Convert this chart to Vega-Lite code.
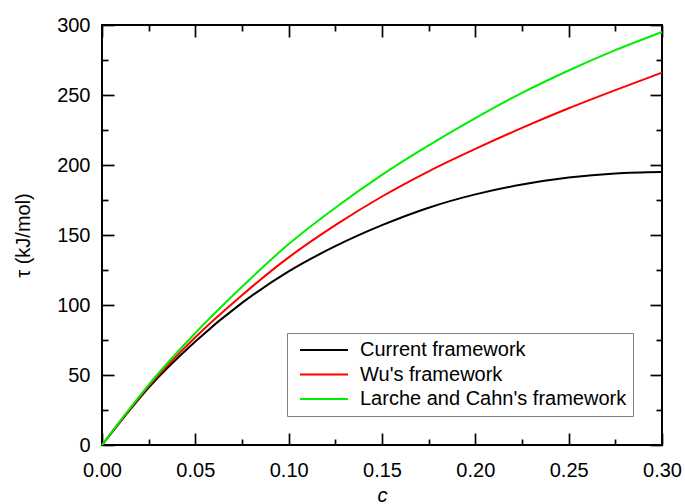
{
  "$schema": "https://vega.github.io/schema/vega-lite/v6.json",
  "width": 560,
  "height": 420,
  "autosize": "none",
  "padding": {"left": 102, "top": 25, "right": 23, "bottom": 59},
  "background": "white",
  "config": {
    "font": "Liberation Sans",
    "view": {"stroke": "black", "strokeWidth": 2},
    "axis": {"labelFont": "Liberation Sans", "titleFont": "Liberation Sans", "labelColor": "black", "titleColor": "black", "tickColor": "black", "tickWidth": 1.7, "grid": false, "domain": false, "ticks": true}
  },
  "data": {
    "values": [
      {"c": 0, "tau": 0, "series": "Current framework"},
      {"c": 0.0125, "tau": 21, "series": "Current framework"},
      {"c": 0.025, "tau": 41, "series": "Current framework"},
      {"c": 0.05, "tau": 74, "series": "Current framework"},
      {"c": 0.075, "tau": 101.5, "series": "Current framework"},
      {"c": 0.1, "tau": 124, "series": "Current framework"},
      {"c": 0.125, "tau": 142, "series": "Current framework"},
      {"c": 0.15, "tau": 157, "series": "Current framework"},
      {"c": 0.175, "tau": 169.5, "series": "Current framework"},
      {"c": 0.2, "tau": 179, "series": "Current framework"},
      {"c": 0.225, "tau": 186, "series": "Current framework"},
      {"c": 0.25, "tau": 191, "series": "Current framework"},
      {"c": 0.275, "tau": 194, "series": "Current framework"},
      {"c": 0.3, "tau": 195, "series": "Current framework"},
      {"c": 0, "tau": 0, "series": "Wu's framework"},
      {"c": 0.0125, "tau": 21.5, "series": "Wu's framework"},
      {"c": 0.025, "tau": 42, "series": "Wu's framework"},
      {"c": 0.05, "tau": 77, "series": "Wu's framework"},
      {"c": 0.075, "tau": 107, "series": "Wu's framework"},
      {"c": 0.1, "tau": 134, "series": "Wu's framework"},
      {"c": 0.125, "tau": 157, "series": "Wu's framework"},
      {"c": 0.15, "tau": 177.5, "series": "Wu's framework"},
      {"c": 0.175, "tau": 195.5, "series": "Wu's framework"},
      {"c": 0.2, "tau": 211.5, "series": "Wu's framework"},
      {"c": 0.225, "tau": 226.5, "series": "Wu's framework"},
      {"c": 0.25, "tau": 240.5, "series": "Wu's framework"},
      {"c": 0.275, "tau": 253.5, "series": "Wu's framework"},
      {"c": 0.3, "tau": 266, "series": "Wu's framework"},
      {"c": 0, "tau": 0, "series": "Larche and Cahn's framework"},
      {"c": 0.0125, "tau": 22, "series": "Larche and Cahn's framework"},
      {"c": 0.025, "tau": 43, "series": "Larche and Cahn's framework"},
      {"c": 0.05, "tau": 80, "series": "Larche and Cahn's framework"},
      {"c": 0.075, "tau": 113, "series": "Larche and Cahn's framework"},
      {"c": 0.1, "tau": 143.5, "series": "Larche and Cahn's framework"},
      {"c": 0.125, "tau": 169.5, "series": "Larche and Cahn's framework"},
      {"c": 0.15, "tau": 193, "series": "Larche and Cahn's framework"},
      {"c": 0.175, "tau": 214, "series": "Larche and Cahn's framework"},
      {"c": 0.2, "tau": 233.5, "series": "Larche and Cahn's framework"},
      {"c": 0.225, "tau": 251.5, "series": "Larche and Cahn's framework"},
      {"c": 0.25, "tau": 267.5, "series": "Larche and Cahn's framework"},
      {"c": 0.275, "tau": 282, "series": "Larche and Cahn's framework"},
      {"c": 0.3, "tau": 295, "series": "Larche and Cahn's framework"}
    ]
  },
  "resolve": {"axis": {"x": "independent", "y": "independent"}},
  "layer": [
    {
      "mark": {"type": "line", "strokeWidth": 2, "interpolate": "monotone"},
      "encoding": {
        "x": {
          "field": "c", "type": "quantitative",
          "scale": {"domain": [0, 0.3], "nice": false, "zero": false},
          "axis": {
            "orient": "bottom", "title": "c", "titleFontStyle": "italic", "titleFontSize": 20, "titleFontWeight": "normal", "titlePadding": 5,
            "values": [0, 0.05, 0.1, 0.15, 0.2, 0.25, 0.3],
            "format": ".2f",
            "labelFontSize": 20, "labelPadding": 27, "labelOverlap": false, "labelFlush": false,
            "tickSize": -12
          }
        },
        "y": {
          "field": "tau", "type": "quantitative",
          "scale": {"domain": [0, 300], "nice": false},
          "axis": {
            "orient": "left", "title": "τ (kJ/mol)", "titleFontSize": 20, "titleFontWeight": "normal", "titlePadding": 23,
            "values": [0, 50, 100, 150, 200, 250, 300],
            "labelFontSize": 20, "labelPadding": 24, "labelOverlap": false, "labelFlush": false,
            "tickSize": -12
          }
        },
        "color": {
          "field": "series", "type": "nominal",
          "scale": {"domain": ["Current framework", "Wu's framework", "Larche and Cahn's framework"], "range": ["#000000", "#ff0000", "#00ee00"]},
          "legend": {
            "title": null, "orient": "none", "legendX": 185, "legendY": 308,
            "symbolType": "stroke", "symbolSize": 2304, "symbolStrokeWidth": 2,
            "labelFontSize": 20, "labelFont": "Liberation Sans", "labelColor": "black", "labelLimit": 400,
            "labelOffset": 11, "symbolOffset": 6, "clipHeight": 22, "rowPadding": 2.5,
            "padding": 6, "strokeColor": "#808080", "fillColor": "white"
          }
        }
      }
    },
    {
      "mark": {"type": "line", "opacity": 0},
      "encoding": {
        "x": {
          "field": "c", "type": "quantitative",
          "axis": {"orient": "top", "title": null, "labels": false, "values": [0, 0.05, 0.1, 0.15, 0.2, 0.25, 0.3], "tickSize": -12}
        },
        "y": {
          "field": "tau", "type": "quantitative",
          "axis": {"orient": "right", "title": null, "labels": false, "values": [0, 50, 100, 150, 200, 250, 300], "tickSize": -12}
        },
        "detail": {"field": "series", "type": "nominal"}
      }
    },
    {
      "mark": {"type": "line", "opacity": 0},
      "encoding": {
        "x": {
          "field": "c", "type": "quantitative",
          "axis": {"orient": "bottom", "title": null, "labels": false, "values": [0.025, 0.075, 0.125, 0.175, 0.225, 0.275], "tickSize": -6}
        },
        "y": {
          "field": "tau", "type": "quantitative",
          "axis": {"orient": "left", "title": null, "labels": false, "values": [25, 75, 125, 175, 225, 275], "tickSize": -6}
        },
        "detail": {"field": "series", "type": "nominal"}
      }
    },
    {
      "mark": {"type": "line", "opacity": 0},
      "encoding": {
        "x": {
          "field": "c", "type": "quantitative",
          "axis": {"orient": "top", "title": null, "labels": false, "values": [0.025, 0.075, 0.125, 0.175, 0.225, 0.275], "tickSize": -6}
        },
        "y": {
          "field": "tau", "type": "quantitative",
          "axis": {"orient": "right", "title": null, "labels": false, "values": [25, 75, 125, 175, 225, 275], "tickSize": -6}
        },
        "detail": {"field": "series", "type": "nominal"}
      }
    }
  ]
}
